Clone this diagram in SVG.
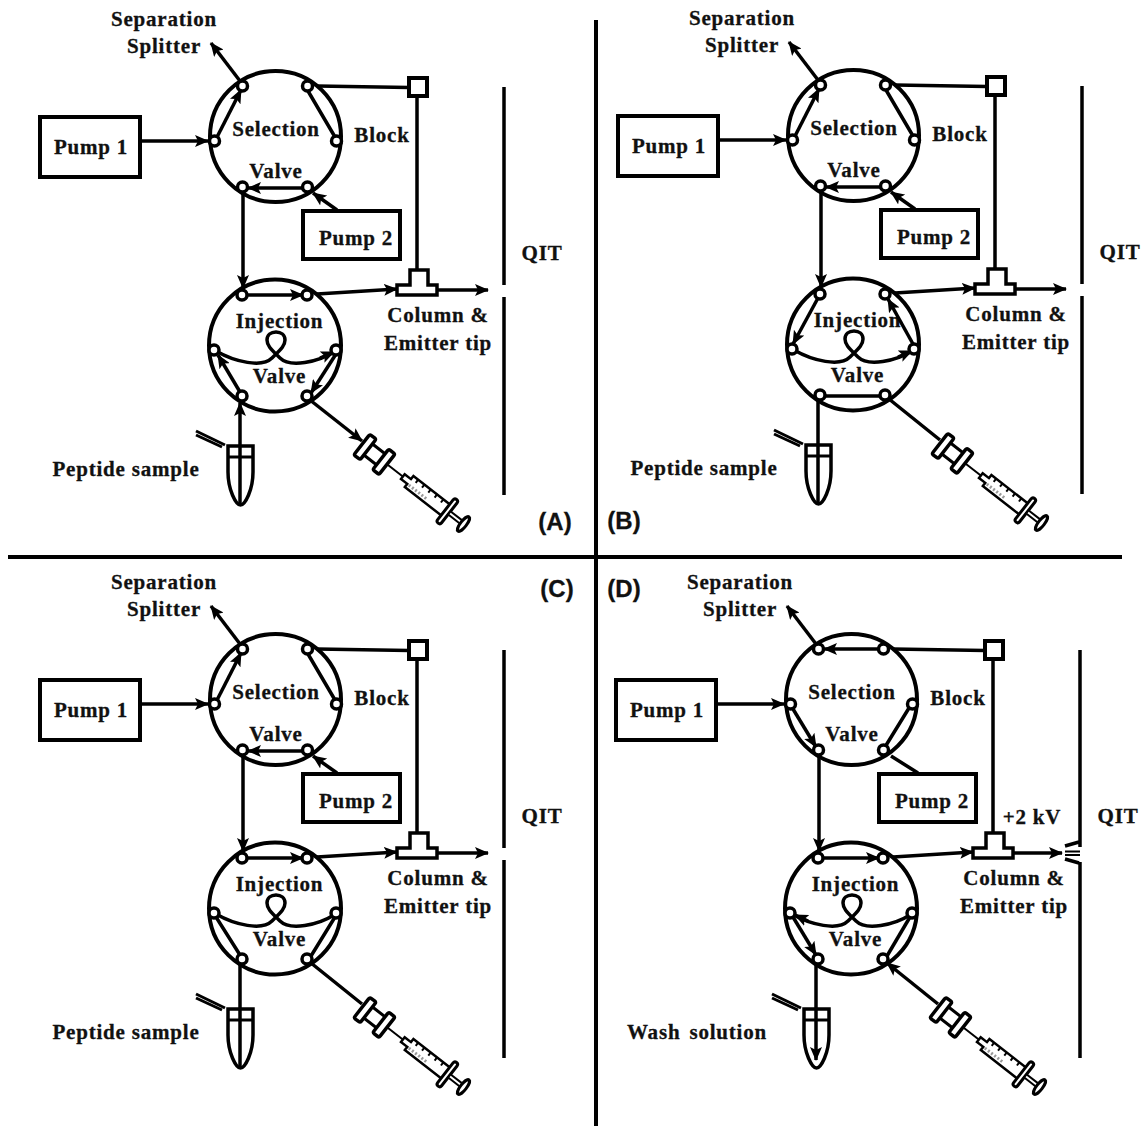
<svg xmlns="http://www.w3.org/2000/svg" width="1141" height="1126" viewBox="0 0 1141 1126">
<style>
text{font-family:"Liberation Serif","Times New Roman",serif;font-weight:700;font-size:21px;letter-spacing:.8px;fill:#111;stroke:#111;stroke-width:.3;text-anchor:middle}
text.p{font-family:"Liberation Sans",Arial,sans-serif;font-size:24px;letter-spacing:0}
.c,.a{fill:none;stroke:#000;stroke-width:3.5}
.a{marker-end:url(#arr)}
.v{fill:none;stroke:#000;stroke-width:4}
.b{fill:#fff;stroke:#000;stroke-width:4}
.h{fill:#fff;stroke:#000;stroke-width:3.5}
.q{fill:none;stroke:#000;stroke-width:3.5}
.s{fill:none;stroke:#000;stroke-width:4}
</style>
<defs>
<marker id="arr" markerUnits="userSpaceOnUse" viewBox="0 0 14 12" markerWidth="14" markerHeight="12" refX="13" refY="6" orient="auto"><path d="M0 0L14 6L0 12L3 6Z" fill="#000"/></marker>
<g id="ports"><circle cx="-33" cy="-50" r="5" class="h"/><circle cx="32" cy="-50" r="5" class="h"/><circle cx="61" cy="5" r="5" class="h"/><circle cx="32" cy="51" r="5" class="h"/><circle cx="-33" cy="51" r="5" class="h"/><circle cx="-61" cy="5" r="5" class="h"/></g>
<path id="loop" d="M216 351C235 362 262 368 272 358C280 350 285 346 285 340C285 335 281 332 276 332C271 332 267 335 267 340C267 346 272 350 280 358C290 368 318 362 334 352" fill="none" stroke="#000" stroke-width="3.5"/>
<g id="syringe" transform="translate(365 447) rotate(38)">
<path d="M0 -7H24M0 7H24" fill="none" stroke="#000" stroke-width="3"/>
<rect x="-4" y="-13" width="8" height="26" rx="2" class="h"/><rect x="20" y="-13" width="8" height="26" rx="2" class="h"/>
<path d="M28 0H50" stroke="#000" stroke-width="2"/>
<path d="M48 -3H56V-7H104V7H56V3H48Z" class="h" style="stroke-width:2.5"/>
<path d="M62 -7V-3M70 -7V-3M78 -7V-3M86 -7V-3M94 -7V-3" stroke="#000" stroke-width="2"/>
<path d="M58 3H80" stroke="#999" stroke-width="3" stroke-dasharray="2 2"/>
<rect x="102" y="-15" width="5" height="30" rx="2.5" class="h" style="stroke-width:3"/>
<path d="M107 -2H122V2H107Z" class="h" style="stroke-width:2"/>
<ellipse cx="125" cy="0" rx="3" ry="9" class="h" style="stroke-width:3"/>
</g>
<g id="tube">
<path d="M228 446H253V472C253 490 245 505 240.500 505C236 505 228 490 228 472Z" fill="none" stroke="#000" stroke-width="3.500"/>
<path d="M228 457H253" stroke="#000" stroke-width="3"/>
<path d="M196 431L225 445" stroke="#000" stroke-width="3"/><path d="M196 435L222 447" stroke="#000" stroke-width="3"/>
</g>
</defs>

<g id="separators"><path class="s" d="M596 20V1126M8 557H1122"/></g>

<g id="panel-a">
<g id="a-selection-valve"><circle cx="275.5" cy="136.5" r="65.5" class="v"/><text x="276" y="136">Selection</text><text x="276" y="178">Valve</text></g>
<g id="a-injection-valve"><circle cx="275" cy="345.5" r="66" class="v"/><use href="#loop"/><text x="279.500" y="328">Injection</text><text x="279.500" y="383">Valve</text></g>
<g id="a-connectors">
<path class="a" d="M240 81L211 43"/><path class="a" d="M140 141H208"/><path class="a" d="M215 141L241 90"/>
<path class="c" d="M308 91L335 137M317 86L409 87.5M417 96V270"/>
<path class="a" d="M303 188H248"/><path class="a" d="M337 210L313 193"/>
<path class="a" d="M243 193V288"/><path class="a" d="M247 295H303"/><path class="a" d="M317 294L397 289"/><path class="a" d="M437 290H488"/>
<path class="a" d="M240 392L218 355"/><path class="a" d="M336 354L311 393"/><path class="a" d="M320 358L334 352"/>
<path class="a" d="M240 505V403"/><path class="a" d="M310 400L362 441"/>
</g>
<g id="a-ports"><use href="#ports" transform="translate(275.5 136)"/><use href="#ports" transform="translate(275 345)"/></g>
<g id="a-pump1"><rect x="40" y="117" width="100" height="60" class="b"/><text x="91" y="154">Pump 1</text></g>
<g id="a-pump2"><rect x="303" y="211" width="97" height="48" class="b"/><text x="356" y="245">Pump 2</text></g>
<g id="a-block"><rect x="409" y="78" width="18" height="18" class="b"/><text x="382" y="142">Block</text></g>
<g id="a-splitter"><text x="164" y="26">Separation</text><text x="164" y="53">Splitter</text></g>
<g id="a-column"><path d="M397 285H410V270H428V285H437V295H397Z" class="h"/><text x="438" y="322">Column &amp;</text><text x="438" y="350">Emitter tip</text></g>
<g id="a-qit"><path class="q" d="M504 87V285M504 297V495"/><text x="542" y="260">QIT</text></g>
<g id="a-sample"><use href="#tube"/><text x="126" y="476">Peptide sample</text></g>
<g id="a-syringe"><use href="#syringe"/></g>
<text class="p" x="555" y="530">(A)</text>
</g>

<g id="panel-b" transform="translate(578 -1)">
<g id="b-selection-valve"><circle cx="275.5" cy="136.5" r="65.5" class="v"/><text x="276" y="136">Selection</text><text x="276" y="178">Valve</text></g>
<g id="b-injection-valve"><circle cx="275" cy="345.5" r="66" class="v"/><use href="#loop"/><text x="279.500" y="328">Injection</text><text x="279.500" y="383">Valve</text></g>
<g id="b-connectors">
<path class="a" d="M240 81L211 43"/><path class="a" d="M140 141H208"/><path class="a" d="M215 141L241 90"/>
<path class="c" d="M308 91L335 137M317 86L409 87.5M417 96V270"/>
<path class="a" d="M303 188H248"/><path class="a" d="M337 210L313 193"/>
<path class="a" d="M243 193V288"/><path class="a" d="M317 294L397 289"/><path class="a" d="M437 290H488"/>
<path class="a" d="M240 299L215 345"/><path class="a" d="M335 345L310 300"/><path class="a" d="M320 358L334 352"/>
<path class="c" d="M247 397H303M240 402V505M311 400L362 441"/>
</g>
<g id="b-ports"><use href="#ports" transform="translate(275.5 136)"/><use href="#ports" transform="translate(275 345)"/></g>
<g id="b-pump1"><rect x="40" y="117" width="100" height="60" class="b"/><text x="91" y="154">Pump 1</text></g>
<g id="b-pump2"><rect x="303" y="211" width="97" height="48" class="b"/><text x="356" y="245">Pump 2</text></g>
<g id="b-block"><rect x="409" y="78" width="18" height="18" class="b"/><text x="382" y="142">Block</text></g>
<g id="b-splitter"><text x="164" y="26">Separation</text><text x="164" y="53">Splitter</text></g>
<g id="b-column"><path d="M397 285H410V270H428V285H437V295H397Z" class="h"/><text x="438" y="322">Column &amp;</text><text x="438" y="350">Emitter tip</text></g>
<g id="b-qit"><path class="q" d="M504 87V285M504 297V495"/><text x="542" y="260">QIT</text></g>
<g id="b-sample"><use href="#tube"/><text x="126" y="476">Peptide sample</text></g>
<g id="b-syringe"><use href="#syringe"/></g>
<text class="p" x="46" y="530">(B)</text>
</g>

<g id="panel-c" transform="translate(0 563)">
<g id="c-selection-valve"><circle cx="275.5" cy="136.5" r="65.5" class="v"/><text x="276" y="136">Selection</text><text x="276" y="178">Valve</text></g>
<g id="c-injection-valve"><circle cx="275" cy="345.5" r="66" class="v"/><use href="#loop"/><text x="279.500" y="328">Injection</text><text x="279.500" y="383">Valve</text></g>
<g id="c-connectors">
<path class="a" d="M240 81L211 43"/><path class="a" d="M140 141H208"/><path class="a" d="M215 141L241 90"/>
<path class="c" d="M308 91L335 137M317 86L409 87.5M417 96V270"/>
<path class="a" d="M303 188H248"/><path class="a" d="M337 210L313 193"/>
<path class="a" d="M243 193V288"/><path class="a" d="M247 295H303"/><path class="a" d="M317 294L397 289"/><path class="a" d="M437 290H488"/>
<path class="c" d="M240 392L216 354M335 354L311 393M240 402V505M311 400L362 441"/>
</g>
<g id="c-ports"><use href="#ports" transform="translate(275.5 136)"/><use href="#ports" transform="translate(275 345)"/></g>
<g id="c-pump1"><rect x="40" y="117" width="100" height="60" class="b"/><text x="91" y="154">Pump 1</text></g>
<g id="c-pump2"><rect x="303" y="211" width="97" height="48" class="b"/><text x="356" y="245">Pump 2</text></g>
<g id="c-block"><rect x="409" y="78" width="18" height="18" class="b"/><text x="382" y="142">Block</text></g>
<g id="c-splitter"><text x="164" y="26">Separation</text><text x="164" y="53">Splitter</text></g>
<g id="c-column"><path d="M397 285H410V270H428V285H437V295H397Z" class="h"/><text x="438" y="322">Column &amp;</text><text x="438" y="350">Emitter tip</text></g>
<g id="c-qit"><path class="q" d="M504 87V285M504 297V495"/><text x="542" y="260">QIT</text></g>
<g id="c-sample"><use href="#tube"/><text x="126" y="476">Peptide sample</text></g>
<g id="c-syringe"><use href="#syringe"/></g>
<text class="p" x="557" y="34">(C)</text>
</g>

<g id="panel-d" transform="translate(576 563)">
<g id="d-selection-valve"><circle cx="275.5" cy="136.5" r="65.500" class="v"/><text x="276" y="136">Selection</text><text x="276" y="178">Valve</text></g>
<g id="d-injection-valve"><circle cx="275" cy="345.5" r="66" class="v"/><use href="#loop"/><text x="279.500" y="328">Injection</text><text x="279.500" y="383">Valve</text></g>
<g id="d-connectors">
<path class="a" d="M240 81L211 43"/><path class="a" d="M140 141H208"/><path class="a" d="M303 86H248"/><path class="a" d="M217 146L240 184"/>
<path class="c" d="M333 145L309 184M317 86L409 87.5M417 96V270M315 193L342 210"/>
<path class="a" d="M243 193V288"/><path class="a" d="M247 295H303"/><path class="a" d="M317 294L397 289"/><path class="a" d="M438 290H486"/>
<path class="a" d="M217 354L240 392"/><path class="a" d="M232 358L219 352"/><path class="c" d="M334 354L311 393"/>
<path class="a" d="M240 402V497"/><path class="a" d="M362 441L311 400"/>
</g>
<g id="d-ports"><use href="#ports" transform="translate(275.5 136)"/><use href="#ports" transform="translate(275 345)"/></g>
<g id="d-pump1"><rect x="40" y="117" width="100" height="60" class="b"/><text x="91" y="154">Pump 1</text></g>
<g id="d-pump2"><rect x="303" y="211" width="97" height="48" class="b"/><text x="356" y="245">Pump 2</text></g>
<g id="d-block"><rect x="409" y="78" width="18" height="18" class="b"/><text x="382" y="142">Block</text></g>
<g id="d-splitter"><text x="164" y="26">Separation</text><text x="164" y="53">Splitter</text></g>
<g id="d-column"><path d="M397 285H410V270H428V285H437V295H397Z" class="h"/><text x="438" y="322">Column &amp;</text><text x="438" y="350">Emitter tip</text><text x="456" y="261">+2 kV</text></g>
<g id="d-qit"><path class="q" d="M504 87V284M503 279L489 283M504 299V495M503 300L489 296"/><path d="M489 288.500H504M489 292H504" fill="none" stroke="#000" stroke-width="1.800"/><text x="542" y="260">QIT</text></g>
<g id="d-sample"><use href="#tube"/><text x="121" y="476" word-spacing="3">Wash solution</text></g>
<g id="d-syringe"><use href="#syringe"/></g>
<text class="p" x="48" y="34">(D)</text>
</g>
</svg>
